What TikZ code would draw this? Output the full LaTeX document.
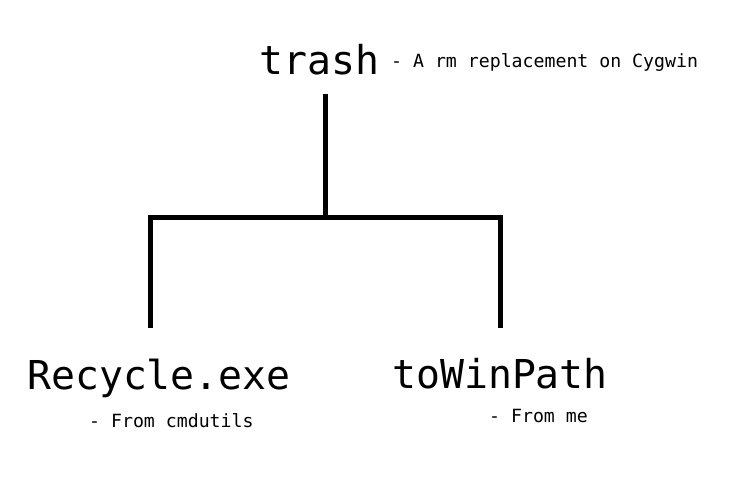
\documentclass[tikz,border=0pt]{standalone}
\usepackage{fontspec}
\setmonofont{DejaVu Sans Mono}
\begin{document}
\begin{tikzpicture}[x=1pt,y=-1pt,
  bigname/.style={inner sep=0pt,anchor=base west,font=\ttfamily\fontsize{39.8}{42}\selectfont},
  note/.style={inner sep=0pt,anchor=base west,font=\ttfamily\fontsize{18.2}{20}\selectfont},
  branch/.style={line width=5pt,line join=miter}]
  \useasboundingbox (0,0) rectangle (737,494);
  % names
  \node[bigname] (trash) at (259,75) {trash};
  \node[note] (trashnote) at (391,67.5) {- A rm replacement on Cygwin};
  \node[bigname] (recycle) at (27,390) {Recycle.exe};
  \node[note] (recyclenote) at (89,428) {- From cmdutils};
  \node[bigname] (towin) at (392,389) {toWinPath};
  \node[note] (towinnote) at (489,423) {- From me};
  % tree connectors
  \coordinate (stem) at (325,94);
  \coordinate (bus) at (325,217.5);
  \coordinate (lturn) at (150.5,217.5);
  \coordinate (rturn) at (500.5,217.5);
  \coordinate (lend) at (150.5,328);
  \coordinate (rend) at (500.5,328);
  \draw[branch] (stem) -- (bus);
  \draw[branch] (lend) -- (lturn) -- (rturn) -- (rend);
\end{tikzpicture}
\end{document}
